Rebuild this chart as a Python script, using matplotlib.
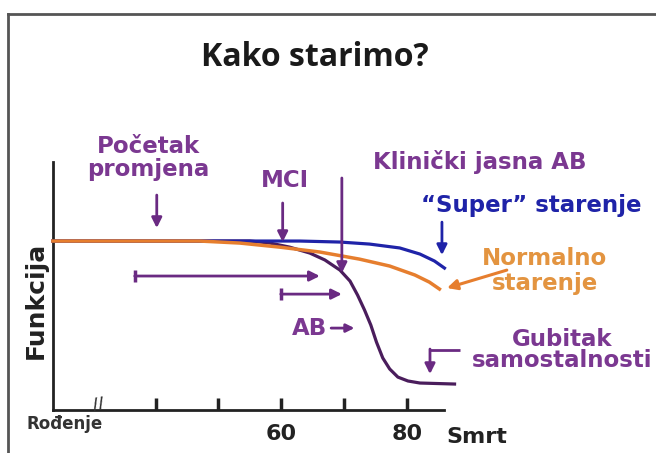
import numpy as np
import matplotlib
matplotlib.use("Agg")
import matplotlib.pyplot as plt
from matplotlib.lines import Line2D

# curves: age vs function level (100 = full function)
super_age = [23.7, 62.9, 69.3, 74.0, 78.8, 82.0, 84.3, 85.9]
super_fun = [100, 100, 99.4, 98.2, 95.9, 92.3, 88.2, 84.0]

normal_age = [23.7, 47.0, 53.4, 59.7, 66.1, 72.4, 77.2, 81.2, 83.5, 85.1]
normal_fun = [100, 100, 98.8, 96.4, 93.5, 89.3, 85.2, 79.9, 75.7, 71.6]

ad_age = [23.7, 55.0, 58.2, 61.3, 64.5, 66.9, 69.3, 70.9, 72.1, 73.2, 74.2,
          75.1, 76.1, 77.2, 78.5, 80.1, 82.0, 87.5]
ad_fun = [100, 100, 98.8, 96.4, 92.9, 88.8, 82.8, 76.3, 68.0, 59.2, 50.3,
          40.2, 30.8, 24.3, 19.5, 17.2, 16.0, 15.4]

tick_ages = [40, 50, 60, 70, 80]
tick_labels = ['', '', '60', '', '80']

PURPLE_TXT = '#7b3891'
PURPLE_ARR = '#6a2a82'
PURPLE_LINE = '#4a1d5c'
BLUE = '#1f23a8'
ORANGE_LINE = '#e67e2e'
ORANGE_TXT = '#e39440'
FS = 16.5

fig = plt.figure(figsize=(6.56, 4.53), dpi=100)
ax = fig.add_axes([0, 0, 1, 1])
ax.set_xlim(15.3, 119.5)
ax.set_ylim(-25.4, 242.6)
ax.patch.set_alpha(0)

ax.spines['top'].set_visible(False)
ax.spines['right'].set_visible(False)
ax.spines['left'].set_position(('data', 23.7))
ax.spines['left'].set_bounds(0, 146.7)
ax.spines['bottom'].set_position(('data', 0))
ax.spines['bottom'].set_bounds(23.7, 85.9)
for s in ['left', 'bottom']:
    ax.spines[s].set_linewidth(2)
    ax.spines[s].set_color('#222222')
ax.set_yticks([])
ax.set_xticks(tick_ages)
ax.set_xticklabels(tick_labels, fontsize=16, fontweight='bold', color='#222222')
ax.tick_params(axis='x', direction='in', length=9, width=2.5, color='#222222', pad=10)

# curves
ax.plot(ad_age, ad_fun, color=PURPLE_LINE, lw=2.3, zorder=2, solid_joinstyle='round')
ax.plot(super_age, super_fun, color=BLUE, lw=2.3, zorder=3, solid_joinstyle='round')
ax.plot(normal_age, normal_fun, color=ORANGE_LINE, lw=2.5, zorder=4, solid_joinstyle='round')

def down_arrow(x, y0, y1, color):
    ax.annotate('', xy=(x, y1), xytext=(x, y0),
                arrowprops=dict(arrowstyle='-|>', color=color, lw=2,
                                mutation_scale=15, shrinkA=0, shrinkB=0), zorder=5)

down_arrow(40.2, 127.2, 107.7, PURPLE_ARR)
down_arrow(60.2, 122.5, 99.4, PURPLE_ARR)
down_arrow(69.6, 137.3, 81.1, PURPLE_ARR)
down_arrow(85.5, 111.2, 91.7, BLUE)

# orange arrow
ax.annotate('', xy=(86.3, 72.2), xytext=(95.8, 82.8),
            arrowprops=dict(arrowstyle='-|>', color=ORANGE_LINE, lw=2.2,
                            mutation_scale=15, shrinkA=0, shrinkB=0), zorder=5)

# horizontal arrows
for x0, x1, y in [(36.7, 66.1, 79.3), (59.9, 69.6, 68.6)]:
    ax.annotate('', xy=(x1, y), xytext=(x0, y),
                arrowprops=dict(arrowstyle='-|>', color=PURPLE_ARR, lw=2,
                                mutation_scale=15, shrinkA=0, shrinkB=0), zorder=5)
    ax.plot([x0], [y], marker='|', ms=9, mew=2.5, color=PURPLE_ARR)

ax.text(64.4, 48.5, 'AB', ha='center', va='center', fontsize=FS,
        fontweight='bold', color=PURPLE_TXT)
ax.annotate('', xy=(71.6, 48.5), xytext=(67.9, 48.5),
            arrowprops=dict(arrowstyle='-|>', color=PURPLE_ARR, lw=2,
                            mutation_scale=12, shrinkA=0, shrinkB=0))

# bent arrow to loss of independence
ax.plot([88.3, 83.6], [35.5, 35.5], color=PURPLE_ARR, lw=2, solid_capstyle='butt')
down_arrow(83.6, 36.1, 21.3, PURPLE_ARR)

# texts
ax.text(65.3, 208.3, 'Kako starimo?', ha='center', va='center', fontsize=23,
        fontweight='bold', family='Open Sans', color='#1a1a1a')
ax.text(38.8, 149.1, 'Početak\npromjena', ha='center', va='center', fontsize=FS,
        fontweight='bold', color=PURPLE_TXT, linespacing=1.0)
ax.text(60.5, 136.1, 'MCI', ha='center', va='center', fontsize=FS,
        fontweight='bold', color=PURPLE_TXT)
ax.text(91.5, 146.7, 'Klinički jasna AB', ha='center', va='center', fontsize=FS,
        fontweight='bold', color=PURPLE_TXT)
ax.text(99.7, 121.3, '“Super” starenje', ha='center', va='center', fontsize=FS,
        fontweight='bold', color=BLUE)
ax.text(101.8, 82.5, 'Normalno\nstarenje', ha='center', va='center', fontsize=FS,
        fontweight='bold', color=ORANGE_TXT, linespacing=1.1)
ax.text(104.6, 35.5, 'Gubitak\nsamostalnosti', ha='center', va='center', fontsize=FS,
        fontweight='bold', color=PURPLE_TXT, linespacing=0.9)
ax.text(20.9, 65.1, 'Funkcija', ha='center', va='center', fontsize=18,
        fontweight='bold', color='#222222', rotation=90)
ax.text(25.6, -8.3, 'Rođenje', ha='center', va='center', fontsize=12,
        fontweight='bold', color='#333333')
ax.text(91.0, -16, 'Smrt', ha='center', va='center', fontsize=16,
        fontweight='bold', color='#222222')
ax.text(30.9, 3, '//', ha='center', va='center', fontsize=11,
        fontweight='bold', color='#333333', rotation=10)

# frame of the slide
fig.add_artist(Line2D([8 / 656, 8 / 656], [0, 1 - 14 / 453], color='#555555', lw=2))
fig.add_artist(Line2D([8 / 656, 1], [1 - 14 / 453, 1 - 14 / 453], color='#555555', lw=2))

fig.savefig('out.png', dpi=100)
